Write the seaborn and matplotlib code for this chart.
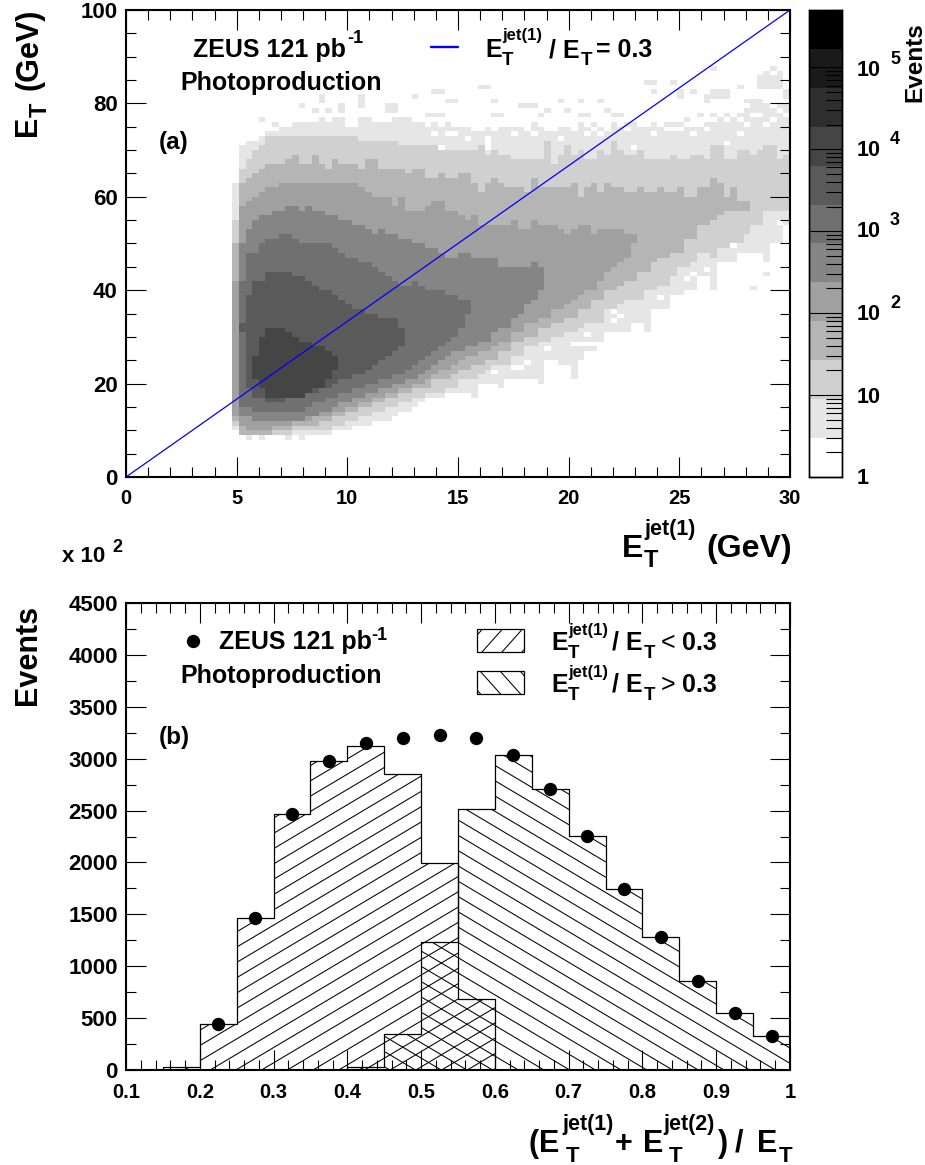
import numpy as np
import matplotlib
matplotlib.use("Agg")
import matplotlib.pyplot as plt
from matplotlib.colors import ListedColormap
from matplotlib.collections import LineCollection
from matplotlib.patches import Polygon, Rectangle
from matplotlib.transforms import Affine2D
import seaborn as sns

W, H = 925, 1165

# ---- panel (a): 2D histogram, 100 x 100 bins; band limits per column (upper, lower bin edge) ----
COLS_START_8, COLS_START_7, COLS_START_6, COLS_START_5 = 19, 17, 17, 17
COLS_START_4, COLS_START_3, COLS_START_2, COLS_START_1 = 16, 16, 16, 16

LEVEL8_HI = [26,30,32,32,32,31,30,29,29,28,28,27,26]
LEVEL8_LO = [21,19,17,17,17,17,17,17,18,19,19,21,23]

LEVEL7_HI = [33,39,42,42,44,44,44,44,43,43,42,41,40,40,39,38,37,36,36,35,35,34,34,34,32]
LEVEL7_LO = [31,19,17,17,16,16,16,17,17,17,18,18,19,19,20,21,21,22,22,23,24,25,26,27,28]

LEVEL6_HI = [42,48,48,50,51,51,52,52,51,50,50,50,50,50,49,48,47,47,46,46,45,44,43,42,41,41,42,41,40,40,40,39,39,38,38]
LEVEL6_LO = [15,15,14,14,14,14,14,14,14,14,15,16,16,17,17,18,18,19,19,20,20,21,21,22,22,23,24,25,26,27,28,29,30,32,35]

LEVEL5_HI = [50,53,55,56,56,57,57,58,58,57,58,57,57,56,56,55,55,54,54,53,52,53,52,52,51,51,50,50,49,49,48,47,47,48,48,47,47,47,47,45,45,45,45,45,46,45]
LEVEL5_LO = [13,13,12,12,12,12,12,12,12,12,13,13,14,14,15,16,16,17,17,18,18,19,19,20,20,21,21,22,23,24,25,26,27,27,28,28,29,29,31,32,32,34,35,37,38,40]

LEVEL4_HI = [42,58,59,60,61,62,62,63,63,63,63,63,63,63,63,63,63,63,63,62,61,60,60,60,58,60,57,57,57,
             58,59,59,57,57,56,55,56,54,54,54,54,54,55,53,53,55,54,54,54,53,52,53,54,54,52,53,53,53,53,52,52]
LEVEL4_LO = [13,11,10,10,10,10,11,11,11,12,12,12,13,13,13,14,14,15,15,16,16,17,17,18,18,19,19,20,20,
             21,22,23,23,24,25,26,26,27,27,28,29,29,31,31,33,33,34,34,36,36,37,38,39,40,40,42,44,45,46,47,50]

LEVEL3_HI = [50,63,64,65,66,67,67,67,68,69,67,67,69,67,66,68,67,67,67,66,68,68,66,66,66,66,65,66,66,
             64,64,65,64,64,65,65,63,61,63,64,63,62,62,62,61,64,62,62,62,62,62,63,60,62,63,61,63,62,62,
             61,61,62,61,61,62,61,61,62,60,60,62,62,64,63,60,62,59,59]
LEVEL3_LO = [12,9,9,9,9,9,10,10,10,11,11,11,11,12,12,13,13,14,14,15,15,16,16,17,17,18,18,19,19,
             19,21,21,21,22,23,23,24,24,25,25,27,27,29,29,30,30,32,32,33,33,34,34,36,36,38,38,40,40,41,
             42,42,44,44,46,47,47,48,48,51,51,54,54,55,56,57,57,57,57]

LEVEL2_HI = [55,66,68,70,71,73,73,73,73,73,73,73,73,73,73,73,73,73,73,72,72,72,72,72,72,71,71,71,71,
             71,71,70,70,70,70,70,70,71,69,70,69,69,68,68,68,68,68,72,67,69,71,69,70,68,68,70,69,72,70,
             69,69,70,68,68,68,68,69,68,68,69,69,68,71,71,68,68,70,70,69,70,71,71,68,69]
LEVEL2_LO = [11,9,9,9,9,9,9,9,9,10,10,10,10,10,10,11,11,12,12,13,13,14,14,15,15,16,16,17,17,
             18,18,18,19,19,21,21,21,22,23,24,24,24,26,26,28,28,29,29,30,30,31,31,32,33,33,33,36,36,37,
             38,38,38,40,40,41,41,43,45,45,46,48,48,47,49,49,50,50,52,54,54,57,57,57,57]

LEVEL1_HI = [63,71,72,72,73,74,74,75,75,76,76,76,76,77,76,77,77,75,75,77,77,76,76,76,77,77,77,76,76,
             76,76,76,76,76,75,75,75,75,75,75,75,75,75,76,75,76,76,75,75,75,76,75,76,75,76,75,76,76,75,
             76,76,75,76,76,75,76,76,77,77,76,78,77,78,78,78,78,78,79,80,81,80,79,80,80]
LEVEL1_LO = [10,9,8,9,8,9,9,9,8,9,8,9,9,9,9,10,10,10,11,11,11,12,12,12,13,14,14,15,16,
             17,17,17,18,18,18,18,17,20,20,20,19,21,21,21,21,21,20,25,25,24,24,21,25,27,27,29,31,31,31,
             31,33,33,31,36,36,36,39,39,40,40,43,43,40,46,46,46,48,48,48,48,46,50,50,52]

# isolated occupied bins outside the solid band
SPECK_COLS = [26,29,29,32,32,35,35,35,39,40,39,40,43,46,47,48,49,53,54,20,22,30,28,
              48,55,59,60,61,65,68,71,66,63,72,73,74,55,56,47,48,45,46,62,68,69,
              78,79,82,88,79,83,83,85,87,87,88,89,90,88,89,90,92,93,94,95,96,97,98,95,96,97,98,95,96,97,98,
              97,98,96,99,99,88,94,96,96,77]
SPECK_ROWS = [79,80,81,79,78,81,80,79,79,79,78,78,81,82,82,80,80,83,83,76,75,78,78,
              80,80,79,79,79,80,80,80,78,78,78,77,77,77,77,77,77,77,77,77,77,77,
              84,84,84,87,82,82,81,82,81,80,82,82,82,81,81,81,83,80,80,85,85,85,85,84,84,84,84,83,83,83,83,
              87,86,86,81,82,40,40,46,43,33]

# empty bins inside the sparsest band
EMPTY_COLS = [47,46,48,49,51,53,54,54,54,55,55,58,61,63,64,65,48,48,50,51,56,58,58,63,64,69,72,70,71,73,68,
              76,82,83,84,85,86,80,81,80,81,91,91,90,92,86,87,88,84,85,97,95,
              59,60,57,58,55,63,67,68,69,70,69,73,74,73,80,84,85,87,91,93,98,99,99,
              45,47,49,52,52,53,57,59,60,62,66,67,69,70,71,72,74,75,77,78,79,81,83,85,87,89,90,92,93,94,96,97,98,99]
EMPTY_ROWS = [70,73,73,73,72,74,70,71,72,74,69,73,73,74,74,72,76,77,75,76,76,76,75,77,76,75,75,77,76,76,78,
              70,74,74,75,75,75,76,76,77,77,78,77,71,73,76,76,76,78,78,76,77,
              23,24,24,23,22,27,28,28,30,28,28,33,34,35,38,42,43,44,49,52,54,52,53,
              75,75,75,76,74,76,75,75,74,75,75,74,73,74,73,74,76,74,75,75,73,74,76,73,74,77,76,76,75,77,75,79,78,77]

BAND_GREYS = ["#ffffff","#e6e6e6","#d0d0d0","#b5b5b5","#a0a0a0","#858585",
              "#707070","#5a5a5a","#454545","#2e2e2e","#1a1a1a","#000000"]
BAND_WIDTH = 0.475  # decades per band

# ---- panel (b) ----
BIN_EDGES = [0.1,0.15,0.2,0.25,0.3,0.35,0.4,0.45,0.5,0.55,0.6,0.65,0.7,0.75,0.8,0.85,0.9,0.95,1.0]
LOW_FRACTION = [0,32,443,1461,2467,2981,3119,2856,1991,681,0,0,0,0,0,0,0,0]
HIGH_FRACTION = [0,0,0,0,0,0,32,344,1233,2519,3032,2708,2251,1741,1278,854,546,325]
DATA_X = [0.225,0.275,0.325,0.375,0.425,0.475,0.525,0.575,0.625,0.675,0.725,0.775,0.825,0.875,0.925,0.975]
DATA_Y = [443,1461,2467,2981,3150,3200,3225,3200,3032,2708,2251,1741,1278,854,546,325]

sns.set_style("ticks")
plt.rcParams["font.family"] = ["Liberation Sans", "DejaVu Sans"]
plt.rcParams["font.weight"] = "bold"
plt.rcParams["axes.axisbelow"] = False
plt.rcParams["axes.edgecolor"] = "black"
plt.rcParams["xtick.color"] = "black"
plt.rcParams["ytick.color"] = "black"

fig = plt.figure(figsize=(W / 100, H / 100), dpi=100)
px = Affine2D().scale(1 / W, -1 / H).translate(0, 1) + fig.transFigure


def axes_px(l, t, r, b):
    return fig.add_axes([l / W, 1 - b / H, (r - l) / W, (b - t) / H])


def label(x, y, s, size, rot=0, weight="bold"):
    fig.text(x / W, 1 - y / H, s, fontsize=size, rotation=rot, ha="left", va="baseline",
             rotation_mode="anchor", fontweight=weight, color="black")


ax_a = axes_px(126, 10, 790, 477)
cax = axes_px(809, 10, 842, 477)
ax_b = axes_px(126, 603, 790, 1070)

# ---------- panel (a) ----------
bands = [
    (1, COLS_START_1, LEVEL1_LO, LEVEL1_HI), (2, COLS_START_2, LEVEL2_LO, LEVEL2_HI),
    (3, COLS_START_3, LEVEL3_LO, LEVEL3_HI), (4, COLS_START_4, LEVEL4_LO, LEVEL4_HI),
    (5, COLS_START_5, LEVEL5_LO, LEVEL5_HI), (6, COLS_START_6, LEVEL6_LO, LEVEL6_HI),
    (7, COLS_START_7, LEVEL7_LO, LEVEL7_HI), (8, COLS_START_8, LEVEL8_LO, LEVEL8_HI),
]
grid = np.zeros((100, 100), dtype=int)
for lev, start, lows, highs in bands:
    assert len(lows) == len(highs), lev
    for k, (lo, hi) in enumerate(zip(lows, highs)):
        grid[start + k, lo:hi] = lev
for c, r in zip(SPECK_COLS, SPECK_ROWS):
    if grid[c, r] == 0:
        grid[c, r] = 1
for c, r in zip(EMPTY_COLS, EMPTY_ROWS):
    if grid[c, r] == 1:
        grid[c, r] = 0

x_edges = np.linspace(0, 30, 101)
y_edges = np.linspace(0, 100, 101)
cols, rows = np.nonzero(grid)
log_counts = (grid[cols, rows] + 0.5) * BAND_WIDTH
sns.histplot(x=(x_edges[cols] + x_edges[cols + 1]) / 2, y=(y_edges[rows] + y_edges[rows + 1]) / 2,
             weights=log_counts, bins=[x_edges, y_edges], cmap=ListedColormap(BAND_GREYS),
             vmin=0, vmax=12 * BAND_WIDTH, cbar=True, cbar_ax=cax, ax=ax_a)
sns.lineplot(x=[0, 30], y=[0, 100], color="#0000ff", lw=0.9, ax=ax_a, zorder=5)
ax_a.set(xlim=(0, 30), ylim=(0, 100), xlabel="", ylabel="")
ax_a.set_xticks(np.arange(0, 31, 5))
ax_a.set_xticks(np.arange(0, 31, 1), minor=True)
ax_a.set_yticks(np.arange(0, 101, 20))
ax_a.set_yticks(np.arange(0, 101, 5), minor=True)

# colour scale
decades = np.arange(0, 6)
minor = [d + np.log10(m) for d in range(0, 6) for m in range(2, 10) if d + np.log10(m) < 12 * BAND_WIDTH]
cax.set_axisbelow(False)
cax.set_yticks(decades)
cax.set_yticks(minor, minor=True)
cax.set_yticklabels([])
cax.tick_params(which="major", direction="in", right=True, left=False, length=23.5, width=0.8,
                labelright=False, color="black")
cax.tick_params(which="minor", direction="in", right=True, left=False, length=11.5, width=0.8, color="black")
for s in cax.spines.values():
    s.set_linewidth(1.0)
    s.set_visible(True)

# ---------- panel (b) ----------
centers = (np.array(BIN_EDGES[:-1]) + np.array(BIN_EDGES[1:])) / 2
sns.histplot(x=centers, weights=LOW_FRACTION, bins=BIN_EDGES, element="step", fill=False,
             color="black", lw=0.9, ax=ax_b)
sns.histplot(x=centers, weights=HIGH_FRACTION, bins=BIN_EDGES, element="step", fill=False,
             color="black", lw=0.9, ax=ax_b)
sns.scatterplot(x=DATA_X, y=DATA_Y, s=92, color="black", linewidth=0, ax=ax_b, zorder=6)
ax_b.set(xlim=(0.1, 1.0), ylim=(0, 4500), xlabel="", ylabel="")
ax_b.set_xticks(np.arange(1, 11) / 10)
ax_b.set_xticklabels(["0.1","0.2","0.3","0.4","0.5","0.6","0.7","0.8","0.9","1"])
ax_b.set_xticks(np.arange(5, 51) / 50, minor=True)
ax_b.set_yticks(np.arange(0, 4501, 500))
ax_b.set_yticks(np.arange(0, 4501, 250), minor=True)


def hatch_lines(x0, y0, slope, step, xa, xb):
    """Evenly spaced sloped strokes in pixel space, to be clipped to a shape."""
    segs = []
    for k in range(-160, 160):
        c = y0 + k * step
        segs.append([(xa, c + slope * (xa - x0)), (xb, c + slope * (xb - x0))])
    return segs


def hist_clip(values):
    xs, ys = [BIN_EDGES[0]], [0]
    for v, a, b in zip(values, BIN_EDGES[:-1], BIN_EDGES[1:]):
        xs += [a, b]
        ys += [v, v]
    xs.append(BIN_EDGES[-1])
    ys.append(0)
    p = Polygon(np.column_stack([xs, ys]), closed=True, fill=False, edgecolor="none", transform=ax_b.transData)
    ax_b.add_patch(p)
    return p


for vals, slope, anchor in [(LOW_FRACTION, -0.595, (236.7, 1008.3)), (HIGH_FRACTION, 0.595, (458.3, 866.0))]:
    lc = LineCollection(hatch_lines(anchor[0], anchor[1], slope, 15.3, 100, 820), colors="black",
                        linewidths=0.75, transform=px, zorder=3)
    ax_b.add_collection(lc, autolim=False)
    lc.set_clip_path(hist_clip(vals))

# legend boxes of panel (b)
for top, slope, anchor in [(629, -1.12, (482, 652)), (671, 1.12, (480, 671))]:
    box = Rectangle((477, top), 47, 23, fill=False, edgecolor="black", lw=0.9, transform=px, zorder=5)
    fig.add_artist(box)
    lc = LineCollection(hatch_lines(anchor[0], anchor[1], slope, 22.4, 470, 530), colors="black",
                        linewidths=0.75, transform=px, zorder=4)
    fig.add_artist(lc)
    lc.set_clip_path(box)

# legend dot of panel (b)
sns.scatterplot(x=[0.1 + (192.5 - 126) / 664 * 0.9], y=[(1070 - 641) / 467 * 4500], s=92, color="black",
                linewidth=0, ax=ax_b, zorder=6)

for ax in (ax_a, ax_b):
    ax.tick_params(which="major", direction="in", top=True, right=True, length=14.4, width=0.8)
    ax.tick_params(which="minor", direction="in", top=True, right=True, length=7.2, width=0.8)
    ax.tick_params(axis="y", which="major", labelsize=16, pad=6, labelcolor="black")
    ax.tick_params(axis="x", which="major", labelsize=14.5, pad=9, labelcolor="black")
    for s in ax.spines.values():
        s.set_visible(True)
        s.set_linewidth(1.5)

# ---------- text, panel (a) ----------
label(193, 57, "ZEUS 121 pb", 18)
label(347, 43, "-1", 13)
label(180, 90, "Photoproduction", 18)
label(159, 149, "(a)", 17.5)
fig.add_artist(plt.Line2D([431, 458], [47, 47], color="#0000ff", lw=1.7, transform=px))
label(485, 57, "E", 18)
label(502, 65, "T", 13.5)
label(502, 40, "jet(1)", 12)
label(549, 57, "/ E", 18)
label(581, 65, "T", 13.5)
label(596, 57, "= 0.3", 18)

label(622, 557, "E", 23)
label(644, 567, "T", 17)
label(644, 535, "jet(1)", 15.5)
label(706, 557, "(GeV)", 23)

label(36, 136, "E", 22, rot=90)
label(47, 117, "T", 17, rot=90)
label(37, 90, "(GeV)", 22, rot=90)

# colour-scale labels
label(857, 484, "1", 15.5)
label(857, 403, "10", 15.5)
for d, yb in zip([2, 3, 4, 5], [320, 237, 156, 76]):
    label(857, yb, "10", 15.5)
    label(890, yb - 12, str(d), 13)
label(921, 102, "Events", 17.5, rot=90)

# ---------- text, panel (b) ----------
label(62, 562, "x 10", 16)
label(112, 552, "2", 13)
label(36, 705, "Events", 22, rot=90)
label(219, 649, "ZEUS 121 pb", 18)
label(371, 640, "-1", 13)
label(180, 683, "Photoproduction", 18)
label(159, 744, "(b)", 17.5)
for dy, sign in [(0, "<"), (42, ">")]:
    label(551, 650 + dy, "E", 18)
    label(568, 658 + dy, "T", 13.5)
    label(568, 635 + dy, "jet(1)", 12)
    label(612, 650 + dy, "/ E", 18)
    label(644, 658 + dy, "T", 13.5)
    label(661, 650 + dy, sign, 18, weight="normal")
    label(682, 650 + dy, "0.3", 18)

label(529, 1152, "(", 22)
label(539, 1152, "E", 22)
label(566, 1162, "T", 16)
label(562, 1130, "jet(1)", 15.5)
label(615, 1152, "+", 22)
label(643, 1152, "E", 22)
label(669, 1162, "T", 16)
label(663, 1130, "jet(2)", 15.5)
label(718, 1152, ")", 22)
label(735, 1152, "/", 22)
label(757, 1152, "E", 22)
label(779, 1162, "T", 16)

fig.savefig("out.png", dpi=100, facecolor="white")
